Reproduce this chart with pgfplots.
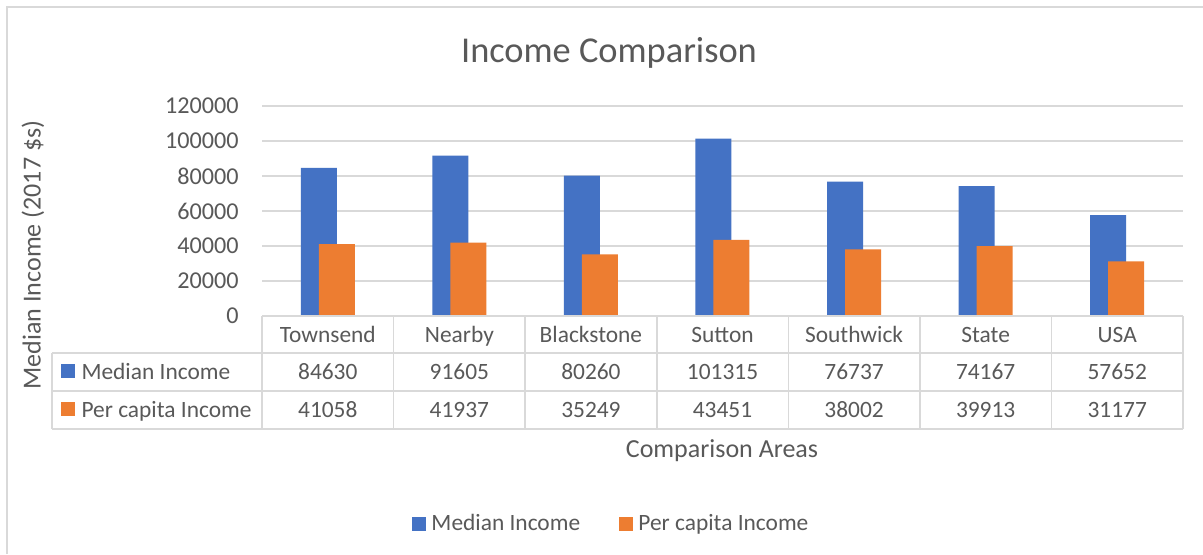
\documentclass[border=0pt]{standalone}
\usepackage{pgfplots}
\usepackage{pgfplotstable}
\pgfplotsset{compat=1.18}
\usepackage{fontspec}
\setmainfont{Carlito}
\definecolor{cblue}{HTML}{4472C4}
\definecolor{corange}{HTML}{ED7D31}
\definecolor{ctext}{HTML}{595959}
\definecolor{cgrid}{HTML}{D9D9D9}

\pgfplotstableread{
idx name median percap
0 Townsend 84630 41058
1 Nearby 91605 41937
2 Blackstone 80260 35249
3 Sutton 101315 43451
4 Southwick 76737 38002
5 State 74167 39913
6 USA 57652 31177
}\datatable

\newcommand{\ninept}{\fontsize{9}{10.8}\selectfont}
\newcommand{\tenpt}{\fontsize{10}{12}\selectfont}

\begin{document}
\begin{tikzpicture}[x=0.3846pt,y=0.3846pt]
\useasboundingbox (0,0) rectangle (1203,-554);
\fill[white] (0,0) rectangle (1203,-554);
\draw[cgrid, line width=0.5pt] (7,-554) -- (7,-7) -- (1203,-7);
\node[text=ctext, font=\fontsize{14}{16.8}\selectfont] at (609,-53) {Income Comparison};
\node[text=ctext, font=\tenpt, rotate=90] at (33,-255) {Median Income (2017 \$s)};
\coordinate (axorigin) at (262,-316);
\begin{axis}[
  at={(axorigin)}, anchor=south west,
  scale only axis, width=354.2pt, height=80.77pt,
  xmin=-0.5, xmax=6.5, ymin=0, ymax=120000,
  axis line style={draw=none},
  ymajorgrids, grid style={cgrid, line width=0.5pt},
  ytick={0,20000,...,120000},
  scaled y ticks=false,
  xtick=\empty,
  major tick length=0pt,
  /pgf/number format/assume math mode=true,
  yticklabel style={/pgf/number format/fixed, /pgf/number format/1000 sep={}, font=\fontsize{9.3}{11}\selectfont, text=ctext, inner sep=0pt, xshift=-8.8pt},
  ybar,
  bar width=13.85pt,
  legend image code/.code={\fill[#1] (0pt,-2.7pt) rectangle (5.4pt,2.7pt);},
  legend style={at={(0.381,-0.99)}, anchor=center, draw=none, fill=none, legend columns=2, font=\ninept, text=ctext,
    /tikz/every even column/.append style={column sep=13pt}},
]
\addplot[fill=cblue, draw=none, bar shift=-3.46pt] table[x=idx, y=median]{\datatable};
\addlegendentry{Median Income}
\addplot[fill=corange, draw=none, bar shift=3.46pt] table[x=idx, y=percap]{\datatable};
\addlegendentry{Per capita Income}
\end{axis}
% data table
\begin{scope}[cgrid, line width=0.6pt]
\draw (262,-316) -- (1183,-316);
\draw (52,-353) -- (1183,-353);
\draw (52,-391) -- (1183,-391);
\draw (52,-429) -- (1183,-429);
\draw (52,-353) -- (52,-429);
\foreach \i in {0,...,7} {\draw (262+131.57*\i,-316) -- (262+131.57*\i,-429);}
\end{scope}
\fill[cblue] (61,-364) rectangle (75,-378);
\fill[corange] (61,-402) rectangle (75,-416);
\node[anchor=base west, text=ctext, font=\ninept, inner sep=0pt] at (81,-379.5) {Median Income};
\node[anchor=base west, text=ctext, font=\ninept, inner sep=0pt] at (81,-417.5) {Per capita Income};
\foreach \i in {0,...,6} {
  \pgfplotstablegetelem{\i}{name}\of\datatable
  \node[anchor=base, text=ctext, font=\ninept, inner sep=0pt] at (262+131.57*\i+65.79,-342) {\pgfplotsretval};
  \pgfplotstablegetelem{\i}{median}\of\datatable
  \node[anchor=base, text=ctext, font=\ninept, inner sep=0pt] at (262+131.57*\i+65.79,-379.5) {\pgfplotsretval};
  \pgfplotstablegetelem{\i}{percap}\of\datatable
  \node[anchor=base, text=ctext, font=\ninept, inner sep=0pt] at (262+131.57*\i+65.79,-417.5) {\pgfplotsretval};
}
\node[text=ctext, font=\tenpt] at (722,-451) {Comparison Areas};
\end{tikzpicture}
\end{document}
